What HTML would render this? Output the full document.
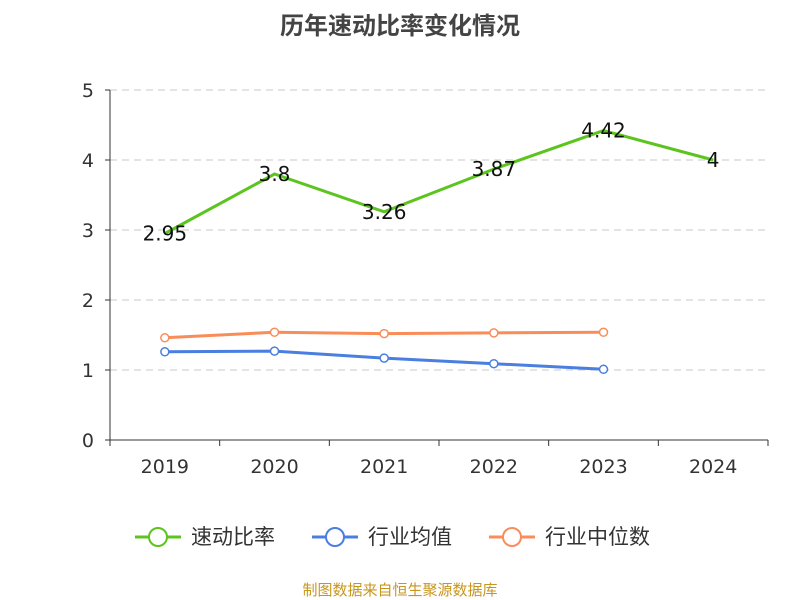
<!DOCTYPE html>
<html><head><meta charset="utf-8"><style>
body{margin:0;background:#fff;}
svg{display:block;font-family:"Liberation Sans","Noto Sans CJK SC",sans-serif;}
.num{font-family:"DejaVu Sans","Liberation Sans",sans-serif;}
</style></head><body>
<svg id="c" width="800" height="600">
<text x="400" y="34" text-anchor="middle" font-size="24" font-weight="bold" fill="#444">历年速动比率变化情况</text>
<g id="grid"></g><g id="axes"></g><g id="series"></g><g id="legend"></g>
<text x="400" y="595" text-anchor="middle" font-size="15" fill="#c8961e">制图数据来自恒生聚源数据库</text>
</svg>
<script>
const categories=["2019","2020","2021","2022","2023","2024"];
const quickRatio=[2.95,3.8,3.26,3.87,4.42,4];
const industryMean=[1.26,1.27,1.17,1.09,1.01];
const industryMedian=[1.46,1.54,1.52,1.53,1.54];
const yTicks=[0,1,2,3,4,5];
const NS="http://www.w3.org/2000/svg";
const x0=110,x1=768,y0=440,y1=90;
const bw=(x1-x0)/categories.length;
const xs=i=>x0+bw*(i+0.5);
const ys=v=>y0-(v/5)*(y0-y1);
function mk(t,a,p){const e=document.createElementNS(NS,t);for(const k in a)e.setAttribute(k,a[k]);p.appendChild(e);return e;}
const g=document.getElementById('grid'),ax=document.getElementById('axes'),s=document.getElementById('series'),lg=document.getElementById('legend');
yTicks.forEach(v=>{
 if(v>0){const l=mk('line',{x1:x0,x2:x1,y1:ys(v),y2:ys(v),stroke:'#c8c8c8','stroke-dasharray':'7,5'},g);
 
 }
 const t=mk('text',{x:x0-16,y:ys(v)+7,'text-anchor':'end','font-size':19,fill:'#333',class:'num'},ax);t.textContent=v;
 
 
 mk('line',{x1:x0-5,x2:x0,y1:ys(v),y2:ys(v),stroke:'#333'},ax);
});
mk('line',{x1:x0,x2:x0,y1:y1,y2:y0,stroke:'#333'},ax);
mk('line',{x1:x0,x2:x1,y1:y0,y2:y0,stroke:'#333'},ax);
for(let i=0;i<=categories.length;i++)mk('line',{x1:x0+bw*i,x2:x0+bw*i,y1:y0,y2:y0+6,stroke:'#333'},ax);
categories.forEach((c,i)=>{const t=mk('text',{x:xs(i),y:y0+33,'text-anchor':'middle','font-size':19,fill:'#333',class:'num'},ax);t.textContent=c;
 
 });
function line(data,color,name,markers,labels){
 const p=mk('polyline',{points:data.map((v,i)=>xs(i)+','+ys(v)).join(' '),fill:'none',stroke:color,'stroke-width':3},s);
 
 
 data.forEach((v,i)=>{
  if(markers){const c=mk('circle',{cx:xs(i),cy:ys(v),r:4,fill:'#fff',stroke:color,'stroke-width':1.5},s);
  
  }
  if(labels){const t=mk('text',{x:xs(i),y:ys(v)+7,'text-anchor':'middle','font-size':20,fill:'#111',class:'num'},s);t.textContent=v;
  
  }
 });
}
line(industryMean,'#4a7fe0','industry-mean',true,false);
line(industryMedian,'#f98d5a','industry-median',true,false);
line(quickRatio,'#5cc41e','quick-ratio',false,true);
[['速动比率','#5cc41e',135],['行业均值','#4a7fe0',312],['行业中位数','#f98d5a',489]].forEach(([n,c,x])=>{
 const gg=mk('g',{},lg);
 
 
 mk('line',{x1:x,x2:x+46,y1:537,y2:537,stroke:c,'stroke-width':3},gg);
 mk('circle',{cx:x+23,cy:537,r:9,fill:'#fff',stroke:c,'stroke-width':2},gg);
 const t=mk('text',{x:x+56,y:544,'font-size':21,fill:'#333'},gg);t.textContent=n;
});
</script>
</body></html>
